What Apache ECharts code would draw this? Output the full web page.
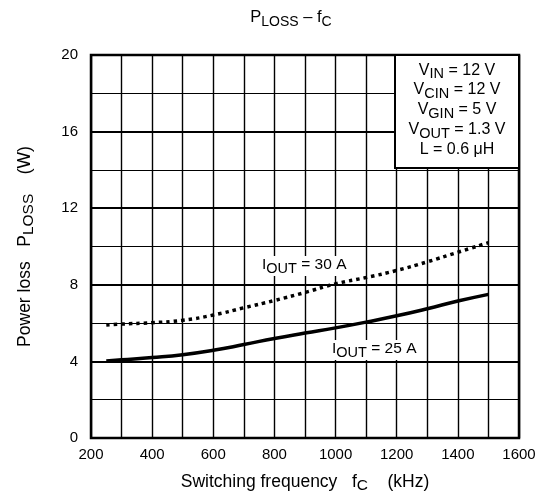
<!DOCTYPE html>
<html><head><meta charset="utf-8">
<script src="https://cdn.jsdelivr.net/npm/echarts@6/dist/echarts.min.js"></script>
<style>html,body{margin:0;padding:0;background:#fff}#c{width:542px;height:499px}</style>
</head><body><div id="c"></div>
<script>
const freq = [250, 300, 400, 500, 600, 700, 800, 900, 1000, 1100, 1200, 1300, 1400, 1500];
const ploss25 = [4.02, 4.08, 4.2, 4.35, 4.58, 4.88, 5.2, 5.48, 5.75, 6.05, 6.38, 6.75, 7.15, 7.5];
const ploss30 = [5.9, 5.95, 6.02, 6.15, 6.42, 6.8, 7.18, 7.6, 8.05, 8.38, 8.75, 9.2, 9.7, 10.2];
const xTicks = [200, 400, 600, 800, 1000, 1200, 1400, 1600];
const yTicks = [0, 4, 8, 12, 16, 20];
const conditions = [['V', 'IN', ' = 12 V'], ['V', 'CIN', ' = 12 V'], ['V', 'GIN', ' = 5 V'], ['V', 'OUT', ' = 1.3 V'], ['L = 0.6 \u03bcH', '', '']];

const FF = 'Liberation Sans, Arial, Helvetica, sans-serif';
const rich = (size, sub, drop) => ({
  n: {fontSize: size, fontFamily: FF, color: '#000', verticalAlign: 'bottom', padding: [0, 0, drop, 0]},
  s: {fontSize: sub, fontFamily: FF, color: '#000', verticalAlign: 'bottom', padding: [0, 0, 0, 0]}
});
const rt = (a, sub, b) => '{n|' + a + '}' + (sub ? '{s|' + sub + '}' : '') + (b ? '{n|' + b + '}' : '');

const chart = echarts.init(document.getElementById('c'), null, {renderer: 'canvas'});
const condGraphics = conditions.map((c, i) => ({
  type: 'text', z: 20,
  style: {x: 457, y: 72 + i * 19.8, text: rt(c[0], c[1], c[2]), rich: rich(16, 14.5, 3.5), align: 'center', verticalAlign: 'middle'}
}));

chart.setOption({
  animation: false,
  backgroundColor: '#fff',
  grid: {left: 91, right: 23, top: 55, bottom: 59, show: true, borderColor: '#000', borderWidth: 2.5, backgroundColor: 'transparent', z: 10},
  xAxis: {
    type: 'value', min: 200, max: 1600, interval: 200,
    axisLine: {show: false}, axisTick: {show: false},
    axisLabel: {margin: 9, fontSize: 15, fontFamily: FF, color: '#000', formatter: v => xTicks.includes(v) ? String(v) : ''},
    splitLine: {show: true, lineStyle: {color: '#000', width: 1.4}},
    minorTick: {show: false, splitNumber: 2},
    minorSplitLine: {show: true, lineStyle: {color: '#000', width: 1.4}},
    name: rt('Switching frequency   f', 'C', '    (kHz)'),
    nameLocation: 'middle', nameGap: 35,
    nameTextStyle: {rich: rich(17.5, 15.5, 3)}
  },
  yAxis: {
    type: 'value', min: 0, max: 20, interval: 4,
    axisLine: {show: false}, axisTick: {show: false},
    axisLabel: {margin: 13, fontSize: 15, fontFamily: FF, color: '#000', formatter: v => yTicks.includes(v) ? String(v) : ''},
    splitLine: {show: true, lineStyle: {color: '#000', width: 1.8}},
    minorTick: {show: false, splitNumber: 2},
    minorSplitLine: {show: true, lineStyle: {color: '#000', width: 1}},
    name: rt('Power loss   P', 'LOSS', '    (W)'),
    nameLocation: 'middle', nameGap: 54,
    nameTextStyle: {rich: rich(17.5, 15.5, 3)}
  },
  graphic: [
    {type: 'text', z: 20, style: {x: 291, y: 19, text: rt('P', 'LOSS', ' \u2013 f') + '{s|C}', rich: rich(16.5, 14, 4), align: 'center', verticalAlign: 'middle'}},
    {type: 'rect', z: 15, shape: {x: 395, y: 55, width: 124, height: 113}, style: {fill: '#fff', stroke: '#000', lineWidth: 2}},
    ...condGraphics,
    {type: 'text', z: 20, style: {x: 259, y: 266, text: rt('I', 'OUT', ' = 30 A'), rich: rich(15.5, 14.5, 3), align: 'left', verticalAlign: 'middle', backgroundColor: '#fff', padding: [1, 3, 0, 3]}},
    {type: 'text', z: 20, style: {x: 329, y: 350, text: rt('I', 'OUT', ' = 25 A'), rich: rich(15.5, 14.5, 3), align: 'left', verticalAlign: 'middle', backgroundColor: '#fff', padding: [1, 3, 0, 3]}}
  ],
  series: [
    {type: 'line', name: 'IOUT = 25 A', data: freq.map((f, i) => [f, ploss25[i]]), smooth: true, symbol: 'none', z: 5,
     lineStyle: {color: '#000', width: 3.5, type: 'solid'}},
    {type: 'line', name: 'IOUT = 30 A', data: freq.map((f, i) => [f, ploss30[i]]), smooth: true, symbol: 'none', z: 5,
     lineStyle: {color: '#000', width: 3.5, type: [3.5, 4], cap: 'butt'}}
  ]
});
</script></body></html>
